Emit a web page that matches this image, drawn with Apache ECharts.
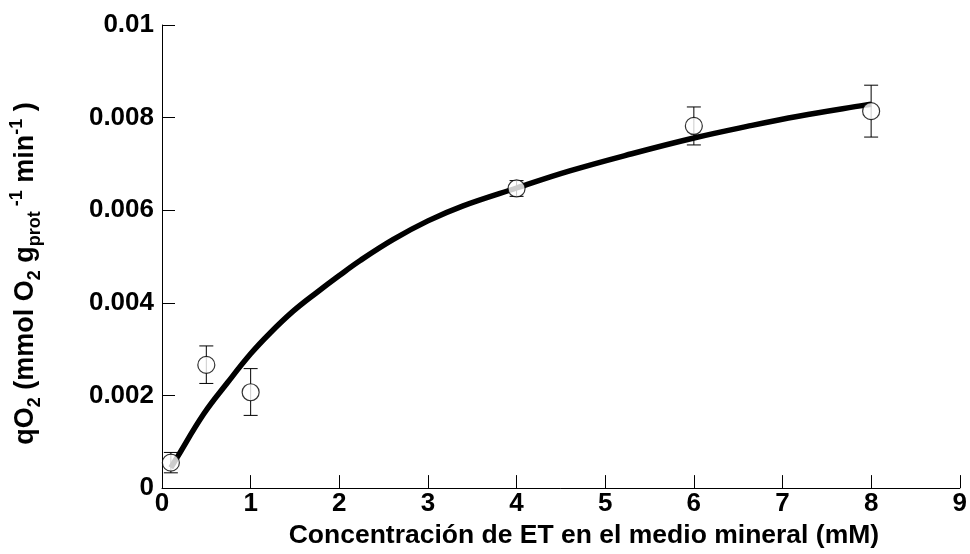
<!DOCTYPE html>
<html>
<head>
<meta charset="utf-8">
<script src="https://cdn.jsdelivr.net/npm/echarts@6/dist/echarts.min.js"></script>
<style>
  html, body { margin: 0; padding: 0; background: #fff; }
  #chart { width: 970px; height: 554px; }
</style>
</head>
<body>
<div id="chart"></div>
<script>
// measured points (mean) with error bars
var concX = [0.1, 0.5, 1, 4, 6, 8];
var qO2 = [0.00055, 0.00266, 0.00207, 0.00647, 0.00782, 0.00814];
var qO2Low = [0.00033, 0.00226, 0.00157, 0.0063, 0.00741, 0.00758];
var qO2High = [0.00077, 0.00307, 0.00258, 0.00664, 0.00823, 0.0087];

// fitted curve
var fitX = [0.1, 0.16, 0.47, 0.74, 1.0, 1.22, 1.48, 1.75, 2.0, 2.24, 2.61, 3.0, 3.39, 4.0, 4.6, 5.3, 6.0, 6.6, 7.18, 7.93, 8.0];
var fitY = [0.00044, 0.00063, 0.0016, 0.00228, 0.0029, 0.00335, 0.00382, 0.00423, 0.00459, 0.00492, 0.00537, 0.00577, 0.00609, 0.00648, 0.00685, 0.00722, 0.00756, 0.00781, 0.00803, 0.00827, 0.00829];

var chart = echarts.init(document.getElementById('chart'));

var font = 'Liberation Sans, Arial, sans-serif';

chart.setOption({
  animation: false,
  backgroundColor: '#fff',
  grid: {
    left: 161,
    right: 8,
    top: 25,
    bottom: 61.5
  },
  xAxis: {
    type: 'value',
    min: 0,
    max: 9,
    interval: 1,
    name: 'Concentración de ET en el medio mineral (mM)',
    nameLocation: 'middle',
    nameGap: 27,
    nameTextStyle: {
      fontFamily: font,
      fontWeight: 'bold',
      fontSize: 26.5,
      color: '#000',
      padding: [0, 0, 0, 46]
    },
    axisLine: { lineStyle: { color: '#000', width: 1 } },
    axisTick: { inside: true, length: 13, lineStyle: { color: '#000' } },
    axisLabel: {
      fontFamily: font,
      fontWeight: 'bold',
      fontSize: 26,
      color: '#000',
      margin: 3
    },
    splitLine: { show: false }
  },
  yAxis: {
    type: 'value',
    min: 0,
    max: 0.01,
    interval: 0.002,
    name: '{a|qO}{s|2}{a| (mmol O}{s|2}{a| g}{s|prot}{p| -1}{a| min}{p|-1}{a| )}',
    nameLocation: 'middle',
    nameRotate: 90,
    nameGap: 118,
    nameTextStyle: {
      color: '#000',
      padding: [0, 34, 0, 0],
      rich: {
        a: { fontFamily: font, fontWeight: 'bold', fontSize: 27, lineHeight: 36, color: '#000', verticalAlign: 'middle' },
        s: { fontFamily: font, fontWeight: 'bold', fontSize: 18, lineHeight: 18, color: '#000', verticalAlign: 'bottom' },
        p: { fontFamily: font, fontWeight: 'bold', fontSize: 18, lineHeight: 18, color: '#000', verticalAlign: 'top' }
      }
    },
    axisLine: { show: true, lineStyle: { color: '#000', width: 1 } },
    axisTick: { show: true, inside: true, length: 13, lineStyle: { color: '#000' } },
    axisLabel: {
      fontFamily: font,
      fontWeight: 'bold',
      fontSize: 26,
      color: '#000',
      margin: 8
    },
    splitLine: { show: false }
  },
  series: [
    {
      name: 'ajuste',
      type: 'line',
      data: fitX.map(function (x, i) { return [x, fitY[i]]; }),
      smooth: 0.4,
      showSymbol: false,
      lineStyle: { color: '#000', width: 5.5 },
      z: 2
    },
    {
      name: 'error',
      type: 'custom',
      data: concX.map(function (x, i) { return [x, qO2Low[i], qO2High[i]]; }),
      renderItem: function (params, api) {
        var lo = api.coord([api.value(0), api.value(1)]);
        var hi = api.coord([api.value(0), api.value(2)]);
        var w = 7;
        var st = { stroke: '#000', lineWidth: 1 };
        return {
          type: 'group',
          children: [
            { type: 'line', shape: { x1: hi[0], y1: hi[1], x2: lo[0], y2: lo[1] }, style: st },
            { type: 'line', shape: { x1: hi[0] - w, y1: hi[1], x2: hi[0] + w, y2: hi[1] }, style: st },
            { type: 'line', shape: { x1: lo[0] - w, y1: lo[1], x2: lo[0] + w, y2: lo[1] }, style: st }
          ]
        };
      },
      z: 3
    },
    {
      name: 'qO2',
      type: 'scatter',
      data: concX.map(function (x, i) { return [x, qO2[i]]; }),
      symbol: 'circle',
      symbolSize: 17,
      itemStyle: { color: '#fff', borderColor: '#000', borderWidth: 1.2 },
      z: 4
    }
  ]
});
</script>
</body>
</html>
